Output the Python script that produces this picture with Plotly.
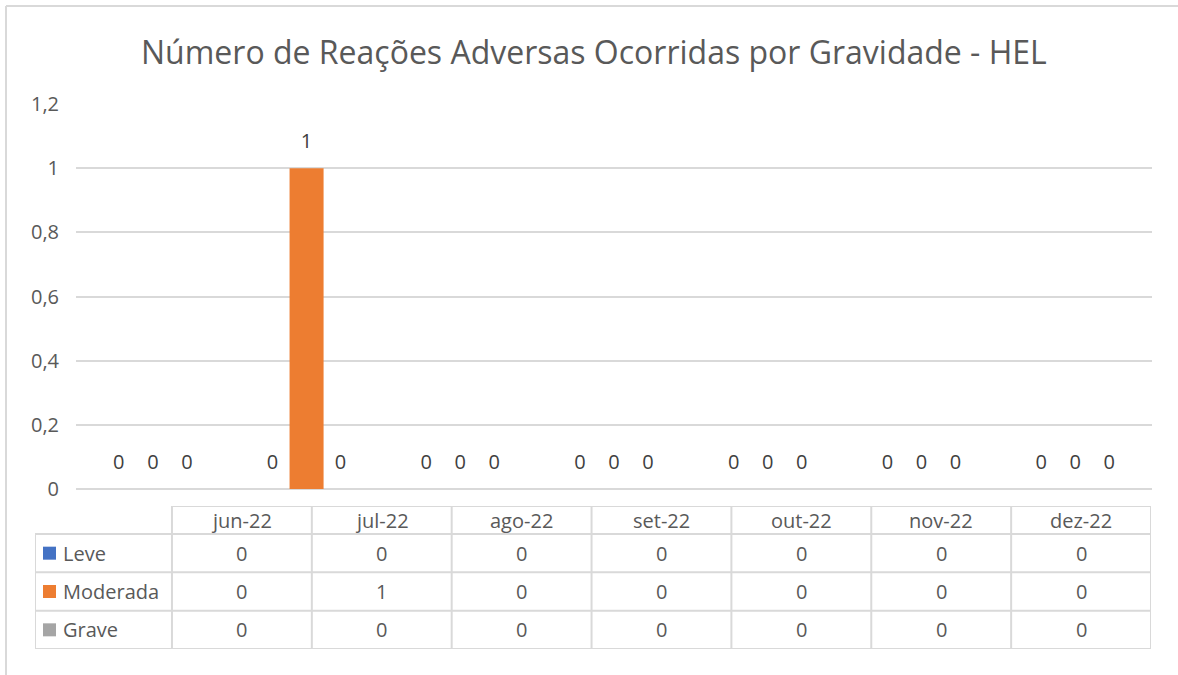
import plotly.graph_objects as go

months = ["jun-22", "jul-22", "ago-22", "set-22", "out-22", "nov-22", "dez-22"]
series_names = ["Leve", "Moderada", "Grave"]
leve = [0, 0, 0, 0, 0, 0, 0]
moderada = [0, 1, 0, 0, 0, 0, 0]
grave = [0, 0, 0, 0, 0, 0, 0]
colors = ["#4472C4", "#ED7D31", "#A5A5A5"]
title_text = "Número de Reações Adversas Ocorridas por Gravidade - HEL"

W, H = 1178, 675
FONT = "Open Sans"
TXT = "#595959"
GRID = "#D9D9D9"

def px_x(p):
    return p / W

def px_y(p):
    return 1 - p / H

fig = go.Figure()
for name, vals, col in zip(series_names, [leve, moderada, grave], colors):
    fig.add_trace(go.Bar(
        x=months, y=vals, name=name, marker=dict(color=col, line=dict(width=0)),
        offsetgroup=name, alignmentgroup="g",
        xaxis="x", yaxis="y", showlegend=False, hoverinfo="skip",
    ))
# data labels, grouped the same way as the bars
for name, vals in zip(series_names, [leve, moderada, grave]):
    fig.add_trace(go.Scatter(
        x=months, y=vals, mode="markers+text", text=[str(v) for v in vals],
        textposition="top center", textfont=dict(family=FONT, size=20, color="#404040"),
        marker=dict(size=22, opacity=0), offsetgroup=name, alignmentgroup="g",
        cliponaxis=False, showlegend=False, hoverinfo="skip", xaxis="x", yaxis="y",
    ))

left_w = 137 / 139.9
hdr_h = 28 / 38.3
n = len(months)
rows = [leve, moderada, grave]

shapes = []
annotations = []
line = dict(color=GRID, width=2)
shapes.append(dict(type="line", xref="x2", yref="y2", x0=0, x1=n, y0=0, y1=0, line=line))
for r in range(len(rows) + 1):
    yy = hdr_h + r
    shapes.append(dict(type="line", xref="x2", yref="y2", x0=-left_w, x1=n, y0=yy, y1=yy, line=line))
shapes.append(dict(type="line", xref="x2", yref="y2", x0=-left_w, x1=-left_w, y0=hdr_h, y1=hdr_h + len(rows), line=line))
for i in range(n + 1):
    shapes.append(dict(type="line", xref="x2", yref="y2", x0=i, x1=i, y0=0, y1=hdr_h + len(rows), line=line))

for i, m in enumerate(months):
    annotations.append(dict(xref="x2", yref="y2", x=i + 0.5, y=hdr_h / 2, text=m, showarrow=False,
                            font=dict(family=FONT, size=20, color=TXT), xanchor="center", yanchor="middle"))
for r, (name, vals, col) in enumerate(zip(series_names, rows, colors)):
    yc = hdr_h + r + 0.5
    shapes.append(dict(type="rect", xref="x2", yref="y2", xsizemode="pixel", ysizemode="pixel",
                       xanchor=-left_w, yanchor=yc, x0=8, x1=21, y0=-6.5, y1=6.5,
                       fillcolor=col, line=dict(width=0)))
    annotations.append(dict(xref="x2", yref="y2", x=-left_w, y=yc, xshift=26, text=name, showarrow=False,
                            font=dict(family=FONT, size=20, color=TXT), xanchor="left", yanchor="middle"))
    for i, v in enumerate(vals):
        annotations.append(dict(xref="x2", yref="y2", x=i + 0.5, y=yc, text=str(v), showarrow=False,
                                font=dict(family=FONT, size=20, color=TXT), xanchor="center", yanchor="middle"))

shapes.append(dict(type="line", xref="paper", yref="paper", x0=px_x(6), x1=1.0, y0=px_y(6), y1=px_y(6),
                   line=dict(color=GRID, width=2)))
shapes.append(dict(type="line", xref="paper", yref="paper", x0=px_x(6), x1=px_x(6), y0=px_y(6), y1=0,
                   line=dict(color=GRID, width=2)))

annotations.append(dict(xref="paper", yref="paper", x=px_x(594), y=px_y(52), text=title_text, showarrow=False,
                        font=dict(family=FONT, size=32, color=TXT), xanchor="center", yanchor="middle"))

fig.update_layout(
    width=W, height=H, margin=dict(l=0, r=0, t=0, b=0, pad=0), autosize=False,
    paper_bgcolor="white", plot_bgcolor="white",
    separators=", ",
    barmode="group", bargap=0.336, bargroupgap=0,
    scattermode="group", scattergap=0.336,
    xaxis=dict(domain=[px_x(76), px_x(1152)], showticklabels=False, ticks="", showgrid=False,
               showline=False, zeroline=False, fixedrange=True, automargin=False),
    yaxis=dict(domain=[px_y(489), px_y(104)], range=[0, 1.2], dtick=0.2, tick0=0,
               showgrid=True, gridcolor=GRID, gridwidth=2, zeroline=True, zerolinecolor=GRID, zerolinewidth=2,
               showline=False, ticks="", ticklabelstandoff=16, automargin=False,
               tickfont=dict(family=FONT, size=20, color=TXT), fixedrange=True),
    xaxis2=dict(domain=[px_x(35), px_x(1151)], range=[-left_w, n], visible=False, fixedrange=True,
                anchor="y2", automargin=False),
    yaxis2=dict(domain=[px_y(649), px_y(506)], range=[hdr_h + len(rows), 0], visible=False, fixedrange=True,
                anchor="x2", automargin=False),
    shapes=shapes, annotations=annotations,
)

fig.write_html("out.html", config={"displayModeBar": False},
               post_script="document.body.style.margin='0';document.body.style.overflow='hidden';")
